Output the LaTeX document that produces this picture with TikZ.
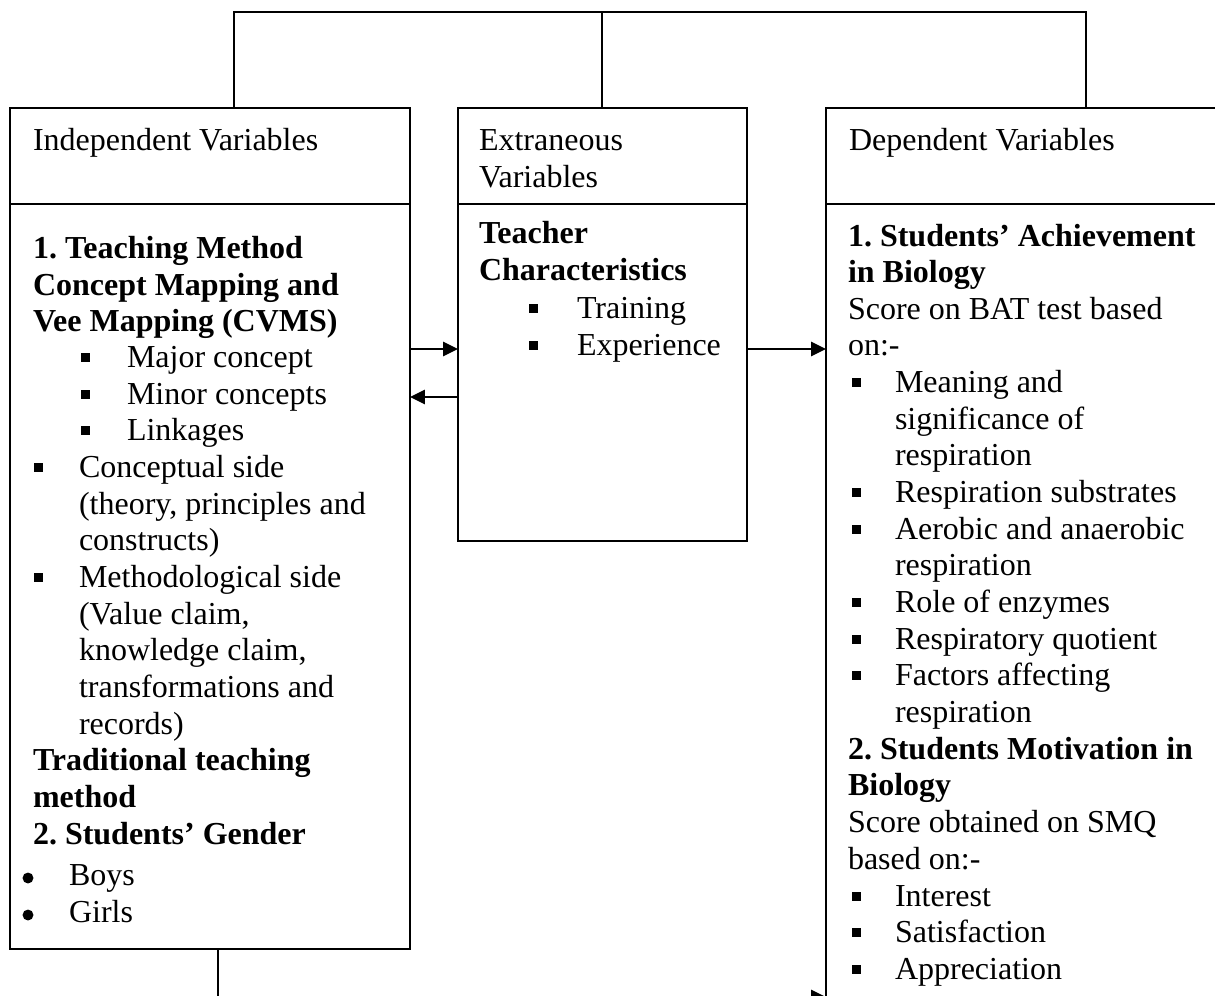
\documentclass[tikz,border=0pt]{standalone}
\usepackage{fontspec}
\setmainfont{Liberation Serif}
\frenchspacing
\usetikzlibrary{arrows.meta,fit}
\tikzset{
 txt/.style={anchor=base west, inner sep=0pt, outer sep=0pt, font=\fontsize{12pt}{14pt}\selectfont},
 bld/.style={txt, font=\fontsize{12pt}{14pt}\selectfont\bfseries},
 sqb/.style={fill=black, draw=none, inner sep=0pt, outer sep=0pt, minimum size=3.3pt, anchor=south west},
 dotb/.style={circle, fill=black, draw=none, inner sep=0pt, minimum size=4.1pt},
 box/.style={draw, line width=0.6pt, inner sep=0pt, outer sep=0pt, rectangle},
 conn/.style={line width=0.6pt},
 arr/.style={conn, -{Triangle[length=5.6pt,width=5.4pt]}},
}
\newcommand{\tln}[4]{\node[txt] (#1) at (#2,#3) {#4};}
\newcommand{\bln}[4]{\node[bld] (#1) at (#2,#3) {#4};}
\newcommand{\sqn}[3]{\node[sqb] (#1) at (#2,#3-5) {};}
\newcommand{\dtn}[3]{\node[dotb] (#1) at (#2,#3-7) {};}
\begin{document}
\begin{tikzpicture}[x=0.375pt,y=-0.375pt]
\useasboundingbox (0,0) rectangle (1215,995);
\clip (0,0) rectangle (1215,995);
% boxes
\node[box, fit={(10,108) (410,204)}] (Lh) {};
\node[box, fit={(10,204) (410,949)}] (Lb) {};
\node[box, fit={(458,108) (747,204)}] (Mh) {};
\node[box, fit={(458,204) (747,541)}] (Mb) {};
\node[box, fit={(826,108) (1240,204)}] (Rh) {};
\node[box, fit={(826,204) (1240,1030)}] (Rb) {};
% left box text
\tln{lh}{33}{150}{Independent Variables}
\bln{l1}{33}{258}{1. Teaching Method}
\bln{l2}{33}{295}{Concept Mapping and}
\bln{l3}{33}{331}{Vee Mapping (CVMS)}
\sqn{lb4}{81}{367}\tln{l4}{127}{367}{Major concept}
\sqn{lb5}{81}{404}\tln{l5}{127}{404}{Minor concepts}
\sqn{lb6}{81}{440}\tln{l6}{127}{440}{Linkages}
\sqn{lb7}{34}{477}\tln{l7}{79}{477}{Conceptual side}
\tln{l8}{79}{514}{(theory, principles and}
\tln{l9}{79}{550}{constructs)}
\sqn{lb10}{34}{587}\tln{l10}{79}{587}{Methodological side}
\tln{l11}{79}{624}{(Value claim,}
\tln{l12}{79}{660}{knowledge claim,}
\tln{l13}{79}{697}{transformations and}
\tln{l14}{79}{734}{records)}
\bln{l15}{33}{770}{Traditional teaching}
\bln{l16}{33}{807}{method}
\bln{l17}{33}{844}{2. Students’ Gender}
\dtn{lb18}{28}{885}\tln{l18}{69}{885}{Boys}
\dtn{lb19}{28}{922}\tln{l19}{69}{922}{Girls}
% middle box text
\tln{mh1}{479}{150}{Extraneous}
\tln{mh2}{479}{187}{Variables}
\bln{m1}{479}{243}{Teacher}
\bln{m2}{479}{280}{Characteristics}
\sqn{mb3}{529}{318}\tln{m3}{577}{318}{Training}
\sqn{mb4}{529}{355}\tln{m4}{577}{355}{Experience}
% right box text
\tln{rh}{849}{150}{Dependent Variables}
\bln{r1}{848}{246}{1. Students’ Achievement}
\bln{r2}{848}{282}{in Biology}
\tln{r3}{848}{319}{Score on BAT test based}
\tln{r4}{848}{355}{on:-}
\sqn{rb5}{852}{392}\tln{r5}{895}{392}{Meaning and}
\tln{r6}{895}{429}{significance of}
\tln{r7}{895}{465}{respiration}
\sqn{rb8}{852}{502}\tln{r8}{895}{502}{Respiration substrates}
\sqn{rb9}{852}{539}\tln{r9}{895}{539}{Aerobic and anaerobic}
\tln{r10}{895}{575}{respiration}
\sqn{rb11}{852}{612}\tln{r11}{895}{612}{Role of enzymes}
\sqn{rb12}{852}{649}\tln{r12}{895}{649}{Respiratory quotient}
\sqn{rb13}{852}{685}\tln{r13}{895}{685}{Factors affecting}
\tln{r14}{895}{722}{respiration}
\bln{r15}{848}{759}{2. Students Motivation in}
\bln{r16}{848}{795}{Biology}
\tln{r17}{848}{832}{Score obtained on SMQ}
\tln{r18}{848}{869}{based on:-}
\sqn{rb19}{852}{906}\tln{r19}{895}{906}{Interest}
\sqn{rb20}{852}{942}\tln{r20}{895}{942}{Satisfaction}
\sqn{rb21}{852}{979}\tln{r21}{895}{979}{Appreciation}
% connectors
\coordinate (t1) at (234,12);
\coordinate (t2) at (602,12);
\coordinate (t3) at (1086,12);
\coordinate (a1) at (0,349);
\coordinate (a2) at (0,397);
\coordinate (b1) at (218,997);
\draw[conn] (Lh.north -| t1) -- (t1) -- (t3) -- (Rh.north -| t3);
\draw[conn] (t2) -- (Mh.north -| t2);
\draw[arr] (Lb.east |- a1) -- (Mb.west |- a1);
\draw[arr] (Mb.west |- a2) -- (Lb.east |- a2);
\draw[arr] (Mb.east |- a1) -- (Rb.west |- a1);
\draw[arr] (Lb.south -| b1) -- (b1) -- (Rb.west |- b1);
\end{tikzpicture}
\end{document}
